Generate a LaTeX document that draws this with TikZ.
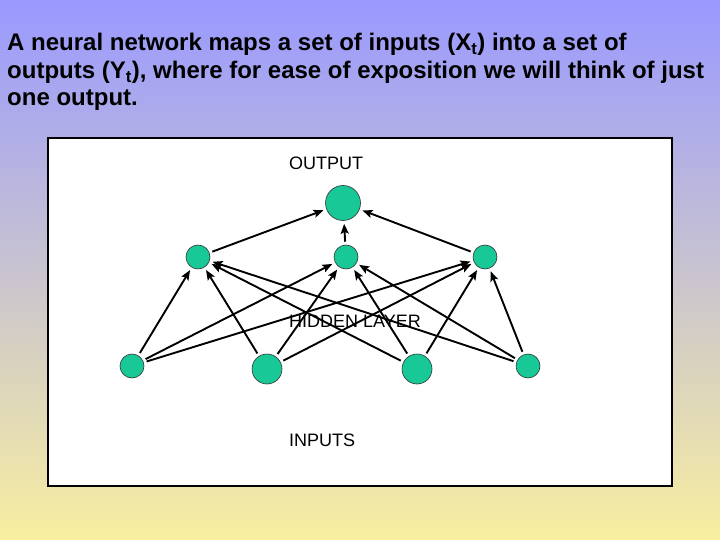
\documentclass[tikz,border=0pt]{standalone}
\usepackage{fontspec}
\setmainfont{Liberation Sans}
\usetikzlibrary{arrows.meta}
\definecolor{slidetop}{RGB}{153,153,255}
\definecolor{slidemid}{RGB}{202,196,222}
\definecolor{slidebot}{RGB}{248,238,160}
\definecolor{neurongreen}{RGB}{24,200,150}
\begin{document}
\begin{tikzpicture}[x=1pt, y=-1pt,
		neuron/.style={circle, draw=black!80, fill=neurongreen, inner sep=0pt, line width=0.6pt},
		link/.style={line width=1.9pt, -{Stealth[length=10pt,width=8pt,inset=2pt]}, shorten >=3pt, shorten <=3pt},
		caption/.style={font=\fontsize{18}{20}\selectfont, inner sep=0pt, anchor=base west},
		headline/.style={font=\fontsize{24}{28}\selectfont\bfseries, inner sep=0pt, anchor=base west}]
				% background and panel
				\useasboundingbox (0,0) rectangle (720,540);
				\shade[top color=slidetop, middle color=slidemid, bottom color=slidebot] (0,0) rectangle (720,540);
				\draw[fill=white, line width=1.2pt] (48,138) rectangle (672,486);

				\node[headline] (title1) at (7,51) {A neural network maps a set of inputs (X\textsubscript{t}) into a set of};
				\node[headline] (title2) at (7,79) {outputs (Y\textsubscript{t}), where for ease of exposition we will think of just};
				\node[headline] (title3) at (7,106) {one output.};

				\node[neuron, minimum size=35pt] (out) at (343,203) {};
				\node[neuron, minimum size=24pt] (h1) at (198,257) {};
				\node[neuron, minimum size=24pt] (h2) at (346,257) {};
				\node[neuron, minimum size=24pt] (h3) at (485,257) {};
				\node[neuron, minimum size=24pt] (x1) at (132,366) {};
				\node[neuron, minimum size=30pt] (x2) at (267,369) {};
				\node[neuron, minimum size=30pt] (x3) at (417,369) {};
				\node[neuron, minimum size=24pt] (x4) at (528,366) {};

				\node[caption] (outlabel) at (289,170) {OUTPUT};
				\node[caption] (hidlabel) at (289,327) {HIDDEN LAYER};
				\node[caption] (inlabel) at (289,446) {INPUTS};

				\draw[link] (h1) -- (out);
				\draw[link] (h2) -- (out);
				\draw[link] (h3) -- (out);

				\draw[link] (x1) -- (h1);
				\draw[link] (x1) -- (h2);
				\draw[link] (x1) -- (h3);
				\draw[link] (x2) -- (h1);
				\draw[link] (x2) -- (h2);
				\draw[link] (x2) -- (h3);
				\draw[link] (x3) -- (h1);
				\draw[link] (x3) -- (h2);
				\draw[link] (x3) -- (h3);
				\draw[link] (x4) -- (h1);
				\draw[link] (x4) -- (h2);
				\draw[link] (x4) -- (h3);
\end{tikzpicture}
\end{document}
